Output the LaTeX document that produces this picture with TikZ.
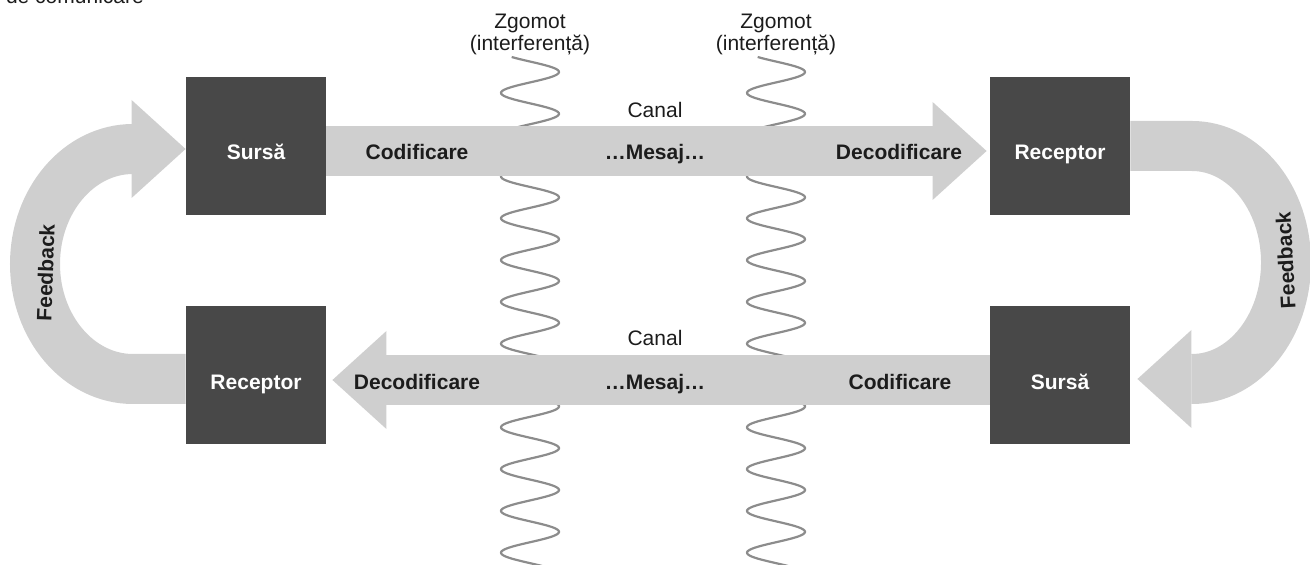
\documentclass[tikz,border=0pt]{standalone}
\usepackage{fontspec}
\setmainfont{Liberation Sans}
\usepackage{tikz}
\usetikzlibrary{arrows.meta}
\definecolor{boxgray}{RGB}{72,72,72}
\definecolor{flowgray}{RGB}{207,207,207}
\definecolor{noisegray}{RGB}{140,140,140}
\definecolor{labeldark}{RGB}{28,28,28}
\newcommand{\lblfont}{\fontsize{10.5}{12.6}\selectfont}

\begin{document}
\begin{tikzpicture}[x=0.5pt, y=0.5pt,
    box/.style={rectangle, fill=boxgray, minimum width=70pt, minimum height=69pt, inner sep=0pt},
    boxlabel/.style={anchor=base, text=white, font=\lblfont\bfseries},
    flow/.style={draw=flowgray, line width=25pt, -{Triangle[length=27pt, width=49pt, line width=0pt]}},
    flowlabel/.style={anchor=base, text=labeldark, font=\lblfont\bfseries},
    plain/.style={anchor=base, text=labeldark, font=\lblfont},
    noise/.style={noisegray, line width=1.1pt, samples=500, variable=\t}]
  % Bildbereich
  \useasboundingbox (0,0) rectangle (1310,-565);
  \clip (0,0) rectangle (1310,-565);
  \node[plain, anchor=base west] (cap) at (-1,-4) {de comunicare};
  % Zgomot: Federn hinter den Kanaelen
  \foreach \nx/\nm in {530/z1, 776/z2} {
    \draw[noise] plot[domain=57:566] ({\nx+29*cos((\t-72)/41.8*360)}, -\t);
    \node[plain] (\nm a) at (\nx,-29) {Zgomot};
    \node[plain] (\nm b) at (\nx,-51) {(interferență)};
  }
  % Kaesten
  \node[box] (src1) at (256,-146) {};
  \node[box] (rec1) at (1060,-146) {};
  \node[box] (rec2) at (256,-375) {};
  \node[box] (src2) at (1060,-375) {};
  % Kanaele
  \draw[flow] ([yshift=-2.5pt]src1.east) -- ([xshift=-1.5pt,yshift=-2.5pt]rec1.west);
  \draw[flow] ([yshift=-2.5pt]src2.west) -- ([xshift=3pt,yshift=-2.5pt]rec2.east);
  % Feedback-Boegen
  \draw[flow] ([yshift=-2pt]rec2.west) -- (133,-379)
    arc[start angle=270, end angle=90, x radius=98, y radius=115] -- ([yshift=-1.5pt]src1.west);
  \draw[flow] (rec1.east) -- (1192,-146)
    arc[start angle=90, end angle=-90, x radius=94, y radius=116.5] -- ([xshift=3.5pt,yshift=-2pt]src2.east);
  % Beschriftung
  \node[boxlabel] (t1) at (256,-160) {Sursă};
  \node[boxlabel] (t2) at (1060,-160) {Receptor};
  \node[boxlabel] (t3) at (256,-390) {Receptor};
  \node[boxlabel] (t4) at (1060,-390) {Sursă};
  \node[plain] (ch1) at (655,-118) {Canal};
  \node[plain] (ch2) at (655,-346) {Canal};
  \node[flowlabel] (c1) at (417,-160) {Codificare};
  \node[flowlabel] (m1) at (655,-160) {…Mesaj…};
  \node[flowlabel] (d1) at (899,-160) {Decodificare};
  \node[flowlabel] (d2) at (417,-390) {Decodificare};
  \node[flowlabel] (m2) at (655,-390) {…Mesaj…};
  \node[flowlabel] (c2) at (900,-390) {Codificare};
  \node[flowlabel, rotate=88] (fb1) at (53,-273) {Feedback};
  \node[flowlabel, rotate=93] (fb2) at (1293,-260) {Feedback};
\end{tikzpicture}
\end{document}
